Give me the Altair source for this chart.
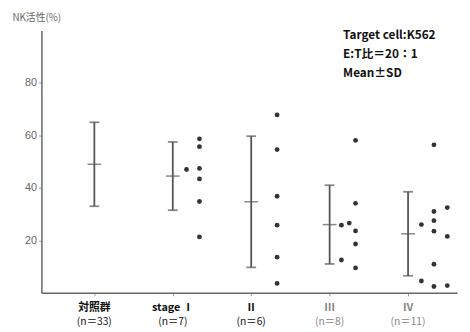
import altair as alt
import pandas as pd

# Categories and group summary (mean ± SD)
categories = ["対照群", "stage Ⅰ", "Ⅱ", "Ⅲ", "Ⅳ"]
n_labels = ["(n＝33)", "(n＝7)", "(n＝6)", "(n＝8)", "(n＝11)"]
label_colors = ["#111111", "#111111", "#111111", "#888888", "#888888"]
means = [49, 44.5, 34.7, 26, 22.5]
sds = [16, 13, 25, 15, 16]

# Individual patient values (group index, horizontal offset, value)
dot_group = [2, 2, 2, 2, 2, 2, 2,
             3, 3, 3, 3, 3, 3,
             4, 4, 4, 4, 4, 4, 4, 4,
             5, 5, 5, 5, 5, 5, 5, 5, 5, 5, 5]
dot_offset = [0.175, 0.34, 0.34, 0.34, 0.34, 0.34, 0.34,
              0.33, 0.33, 0.33, 0.33, 0.33, 0.33,
              0.15, 0.25, 0.33, 0.33, 0.33, 0.33, 0.33, 0.15,
              0.17, 0.17, 0.33, 0.33, 0.33, 0.33, 0.33, 0.33, 0.5, 0.5, 0.5]
dot_value = [47, 58.7, 55.7, 47.4, 43.4, 34.8, 21.3,
             67.8, 54.6, 36.8, 25.8, 13.6, 3.6,
             25.8, 26.6, 58.1, 34.1, 23.6, 18.6, 9.5, 12.5,
             26, 4.5, 56.4, 31, 27.5, 23.5, 10.9, 2.4, 32.5, 21.5, 2.75]

note_lines = ["Target cell:K562", "E:T比＝20：1", "Mean±SD"]

pos = list(range(1, len(categories) + 1))
summary = pd.DataFrame({
    "pos": pos, "cat": categories, "n": n_labels, "col": label_colors,
    "mean": means, "sd": sds,
})
summary["lo"] = summary["mean"] - summary["sd"]
summary["hi"] = summary["mean"] + summary["sd"]

dots = pd.DataFrame({"g": dot_group, "off": dot_offset, "v": dot_value})
dots["x"] = dots["g"] + dots["off"]

FONT = "Noto Sans CJK JP"
xscale = alt.Scale(domain=[0.325, 5.625], nice=False, zero=False)
yscale = alt.Scale(domain=[0, 100], nice=False)

xaxis = alt.Axis(values=pos, labels=False, title=None, grid=False, ticks=True,
                 tickSize=3, tickColor="#999", domainColor="#666", domainWidth=1.5)
yaxis = alt.Axis(values=[20, 40, 60, 80], grid=False, tickSize=3, tickColor="#999",
                 domainColor="#666", domainWidth=1.5, labelColor="#666666",
                 labelFontSize=11, labelFont="Liberation Sans", labelPadding=2,
                 title="NK活性(%)", titleAngle=0, titleAlign="left", titleBaseline="middle",
                 titleX=-30, titleY=-13, titleFontSize=10, titleFontWeight="normal",
                 titleColor="#666666", titleFont=FONT)

base = alt.Chart(summary)

bars = base.mark_rule(color="#555", strokeWidth=1.8).encode(
    x=alt.X("pos:Q", scale=xscale, axis=xaxis),
    y=alt.Y("lo:Q", scale=yscale, axis=yaxis),
    y2="hi:Q",
)
cap_lo = base.mark_tick(orient="horizontal", size=10, thickness=1.8, color="#555").encode(
    x="pos:Q", y="lo:Q")
cap_hi = base.mark_tick(orient="horizontal", size=10, thickness=1.8, color="#555").encode(
    x="pos:Q", y="hi:Q")
mean_tick = base.mark_tick(orient="horizontal", size=14, thickness=1.5, color="#555").encode(
    x="pos:Q", y="mean:Q")

points = alt.Chart(dots).mark_circle(size=24, color="#333", opacity=1).encode(
    x="x:Q", y="v:Q")

lab1 = base.mark_text(fontSize=11, fontWeight="bold", font=FONT, baseline="middle").encode(
    x="pos:Q", y=alt.value(283), text="cat:N", color=alt.Color("col:N", scale=None))
lab2 = base.mark_text(fontSize=10.5, font=FONT, baseline="middle").encode(
    x="pos:Q", y=alt.value(297), text="n:N", color=alt.Color("col:N", scale=None))

notes = []
for i, t in enumerate(note_lines):
    notes.append(
        alt.Chart(pd.DataFrame({"t": [t]})).mark_text(
            fontSize=12, fontWeight="bold", font=FONT, align="left",
            baseline="middle", color="#111"
        ).encode(x=alt.value(307), y=alt.value(5 + 19 * i), text="t:N")
    )

chart = alt.layer(bars, cap_lo, cap_hi, mean_tick, points, lab1, lab2, *notes).properties(
    width=423, height=267,
    autosize=alt.AutoSizeParams(type="none"),
    padding={"left": 34, "top": 20, "right": 5, "bottom": 36},
).configure(background="white", view=alt.ViewConfig(stroke=None))

chart.save("out.html", embed_options={"renderer": "svg", "actions": False})
